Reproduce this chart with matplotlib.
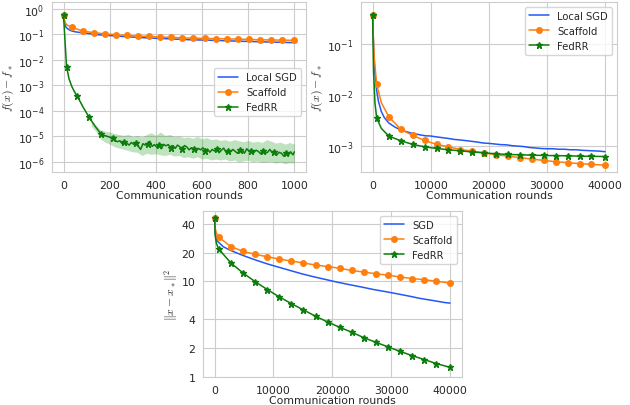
import matplotlib
matplotlib.use('Agg')
import matplotlib.pyplot as plt
import seaborn as sns
from matplotlib.ticker import FixedLocator, FixedFormatter, NullLocator

sns.set_style('whitegrid')
plt.rcParams['font.family'] = ['DejaVu Sans']
plt.rcParams['mathtext.fontset'] = 'cm'

BLUE = '#2457f5'
ORANGE = '#ff7f0e'
GREEN = '#0a7d0a'

# ---- panel 1 (1000 rounds) ----
p1_sgd_x = [0, 5, 10, 20, 30, 50, 80, 150, 250, 350, 450, 550, 650, 750, 850, 1000]
p1_sgd_y = [0.55, 0.3, 0.19, 0.16, 0.14, 0.125, 0.115, 0.096, 0.083, 0.073, 0.067,
            0.061, 0.058, 0.054, 0.051, 0.047]

p1_sca_x = [0, 5, 15, 35, 83, 131, 179, 227, 275, 323, 371, 419, 467, 515, 563, 611,
            659, 707, 755, 803, 851, 899, 947, 997]
p1_sca_y = [0.58, 0.3, 0.23, 0.19, 0.134, 0.115, 0.105, 0.096, 0.09, 0.085, 0.083,
            0.078, 0.076, 0.072, 0.071, 0.069, 0.067, 0.066, 0.065, 0.063, 0.061,
            0.06, 0.059, 0.058]
p1_sca_marks = [0, 35, 83, 131, 179, 227, 275, 323, 371, 419, 467, 515, 563, 611,
                659, 707, 755, 803, 851, 899, 947, 997]

p1_rr_x = [0, 13, 24, 36, 48, 60, 85, 111, 137, 164, 174, 184, 194, 204, 214, 224,
           234, 244, 254, 264, 274, 284, 294, 304, 314, 324, 334, 344, 354, 364,
           374, 384, 394, 404, 414, 424, 434, 444, 454, 464, 474, 484, 494, 504,
           514, 524, 534, 544, 554, 564, 574, 584, 594, 604, 614, 624, 634, 644,
           654, 664, 674, 684, 694, 704, 714, 724, 734, 744, 754, 764, 774, 784,
           794, 804, 814, 824, 834, 844, 854, 864, 874, 884, 894, 904, 914, 924,
           934, 944, 954, 964, 974, 984, 994, 1000]
p1_rr_y = [0.55, 5.4e-3, 1.8e-3, 9e-4, 5.5e-4, 3.7e-4, 1.4e-4, 5.6e-5, 2.5e-5, 1.2e-5,
           1.1e-5, 1.05e-5, 9.8e-6, 9.2e-6, 8.8e-6, 7.0e-6, 6.2e-6, 6.8e-6, 5.2e-6,
           6.0e-6, 5.5e-6, 4.6e-6, 5.8e-6, 4.9e-6, 5.5e-6, 4.2e-6, 3.1e-6, 5.2e-6,
           4.6e-6, 5.0e-6, 6.5e-6, 4.1e-6, 4.8e-6, 3.8e-6, 4.6e-6, 3.3e-6, 4.9e-6,
           4.3e-6, 4.8e-6, 3.6e-6, 4.4e-6, 3.4e-6, 4.6e-6, 3.9e-6, 3.2e-6, 4.4e-6,
           3.9e-6, 3.0e-6, 3.6e-6, 3.3e-6, 2.6e-6, 3.4e-6, 3.0e-6, 3.6e-6, 2.8e-6,
           3.2e-6, 2.4e-6, 3.1e-6, 2.7e-6, 3.3e-6, 2.3e-6, 2.9e-6, 3.5e-6, 2.4e-6,
           2.8e-6, 2.5e-6, 3.1e-6, 2.6e-6, 2.2e-6, 2.9e-6, 3.0e-6, 2.2e-6, 3.3e-6,
           2.6e-6, 2.8e-6, 2.3e-6, 2.9e-6, 2.6e-6, 2.1e-6, 2.7e-6, 2.2e-6, 2.4e-6,
           3.1e-6, 2.3e-6, 2.5e-6, 1.9e-6, 2.4e-6, 2.2e-6, 1.7e-6, 2.3e-6, 1.8e-6,
           2.5e-6, 1.9e-6, 2.5e-6]
p1_rr_marks = [0, 13, 60, 111, 164, 214, 264, 314, 364, 414, 464, 514, 564, 614,
               664, 714, 764, 814, 864, 914, 964]

p1_band_x = [120, 140, 160, 180, 200, 220, 240, 260, 280, 300, 320, 340, 360, 380,
             400, 420, 440, 460, 480, 500, 520, 540, 560, 580, 600, 620, 640, 660,
             680, 700, 720, 740, 760, 780, 800, 820, 840, 860, 880, 900, 920, 940,
             960, 980, 1000]
p1_band_hi = [45, 28, 18, 16, 15, 13, 12, 11, 12, 10, 11, 9.5, 12, 14, 11, 15, 11,
              12, 10, 10.5, 9, 9.5, 8.5, 10, 8, 9, 7.5, 8, 7, 7.5, 6.5, 7.5, 6.8,
              6.2, 7, 6, 6.5, 5.8, 7.5, 6.5, 5.5, 6, 5, 5.8, 5]
p1_band_lo = [25, 16, 8, 6, 5, 4, 3.5, 3.2, 2.8, 2.5, 2.4, 1.8, 2.2, 2.0, 2.1, 1.9,
              1.8, 2.0, 1.7, 1.8, 1.5, 1.6, 1.4, 1.6, 1.3, 1.4, 1.2, 1.3, 1.2, 1.3,
              1.1, 1.2, 1.0, 1.1, 1.2, 1.0, 1.1, 0.95, 1.0, 1.05, 0.9, 1.0, 0.85,
              0.95, 0.9]

# ---- panel 2 (40000 rounds, objective gap) ----
p2_sgd_x = [0, 150, 350, 700, 1000, 1500, 2000, 2800, 3800, 4800, 5800, 6900, 8000,
            9000, 10000, 11000, 12000, 13000, 14000, 15000, 16000, 17000, 18000,
            19000, 20000, 21000, 22000, 23000, 24000, 25000, 26000, 27000, 28000,
            29000, 30000, 31000, 32000, 33000, 34000, 35000, 36000, 37000, 38000,
            39000, 40000]
p2_sgd_y = [0.37, 0.1, 0.03, 0.012, 7.5e-3, 4.7e-3, 3.6e-3, 2.8e-3, 2.35e-3, 2.05e-3,
            1.9e-3, 1.75e-3, 1.66e-3, 1.58e-3, 1.56e-3, 1.5e-3, 1.45e-3, 1.4e-3,
            1.34e-3, 1.31e-3, 1.27e-3, 1.23e-3, 1.19e-3, 1.14e-3, 1.12e-3, 1.09e-3,
            1.06e-3, 1.05e-3, 1.01e-3, 9.9e-4, 9.7e-4, 9.3e-4, 9.1e-4, 8.9e-4,
            8.8e-4, 8.8e-4, 8.6e-4, 8.6e-4, 8.4e-4, 8.4e-4, 8.2e-4, 8.1e-4, 8.0e-4,
            7.9e-4, 7.7e-4]

p2_marks = [0, 700, 2800, 4850, 6900, 8950, 11000, 13050, 15100, 17150, 19200,
            21250, 23300, 25350, 27400, 29450, 31500, 33550, 35600, 37650, 40000]
p2_sca_x = [0, 100, 300, 700, 1500] + p2_marks[2:]
p2_sca_y = [0.37, 0.15, 0.05, 0.016, 7e-3, 3.7e-3, 2.1e-3, 1.6e-3, 1.28e-3, 1.07e-3,
            9.6e-4, 8.5e-4, 7.9e-4, 7.3e-4, 6.7e-4, 6.3e-4, 5.9e-4, 5.5e-4, 5.2e-4,
            4.9e-4, 4.7e-4, 4.5e-4, 4.35e-4, 4.2e-4]
p2_rr_x = [0, 150, 400, 700, 1500] + p2_marks[2:]
p2_rr_y = [0.37, 0.03, 7e-3, 3.5e-3, 2.2e-3, 1.55e-3, 1.26e-3, 1.07e-3, 9.6e-4,
           8.9e-4, 8.4e-4, 8.0e-4, 7.6e-4, 7.3e-4, 7.0e-4, 6.8e-4, 6.7e-4, 6.6e-4,
           6.5e-4, 6.45e-4, 6.4e-4, 6.3e-4, 6.25e-4, 6.2e-4]

# ---- panel 3 (40000 rounds, distance) ----
p3_sgd_x = [0, 100, 400, 700, 1500, 2800, 4900, 7000, 9000, 11000, 13000, 15000,
            17000, 19000, 21000, 23000, 25000, 27000, 29000, 31000, 33000, 35000,
            37000, 39000, 40000]
p3_sgd_y = [45.8, 32, 26.6, 25.6, 23, 21, 18.6, 16.7, 15.2, 14.0, 12.9, 11.9, 11.1,
            10.4, 9.75, 9.2, 8.7, 8.2, 7.8, 7.4, 7.0, 6.6, 6.3, 6.0, 5.9]
p3_sca_x = [0, 100, 300] + p2_marks[1:]
p3_sca_y = [45.8, 36, 32, 29, 23.1, 20.6, 19.2, 18.1, 17.1, 16.3, 15.6, 14.8, 14.3,
            13.7, 13.0, 12.5, 12.0, 11.6, 11.1, 10.7, 10.4, 10.0, 9.6]
p3_rr_x = [0, 100, 300] + p2_marks[1:]
p3_rr_y = [45.8, 30, 25, 21.8, 15.5, 12.2, 9.9, 8.2, 6.85, 5.83, 5.0, 4.3, 3.74,
           3.29, 2.92, 2.56, 2.29, 2.05, 1.84, 1.66, 1.51, 1.37, 1.25]


def marks_idx(xs, marks):
    return [i for i, v in enumerate(xs) if v in marks]


def style(ax, ylab):
    ax.set_yscale('log')
    ax.yaxis.set_minor_locator(NullLocator())
    ax.set_xlabel('Communication rounds', fontsize=7.8, labelpad=0, color='.15')
    ax.set_ylabel(ylab, fontsize=8.5, color='.15', labelpad=1)
    ax.tick_params(labelsize=7.8, colors='.15', pad=2)
    for s in ax.spines.values():
        s.set_color('.8')


fig = plt.figure(figsize=(6.3, 4.06), dpi=100)

ax1 = fig.add_axes([0.0825, 0.574, 0.403, 0.419])
ax1.fill_between(p1_band_x, [v * 1e-6 for v in p1_band_lo], [v * 1e-6 for v in p1_band_hi],
                 color='#2ca02c', alpha=0.3, lw=0)
ax1.plot(p1_sgd_x, p1_sgd_y, color=BLUE, lw=1.1, label='Local SGD')
ax1.plot(p1_sca_x, p1_sca_y, color=ORANGE, lw=1.1, marker='o', ms=4,
         markevery=marks_idx(p1_sca_x, p1_sca_marks), label='Scaffold')
ax1.plot(p1_rr_x, p1_rr_y, color=GREEN, lw=1.1, marker='*', ms=4.5,
         markevery=marks_idx(p1_rr_x, p1_rr_marks), label='FedRR')
style(ax1, r'$f(x) - f_*$')
ax1.set_xlim(-50, 1050)
ax1.set_ylim(10 ** -6.39, 10 ** 0.27)
ax1.set_xticks([0, 200, 400, 600, 800, 1000])
ax1.set_yticks([1e-6, 1e-5, 1e-4, 1e-3, 1e-2, 1e-1, 1])
ax1.legend(loc='center right', bbox_to_anchor=(1.0, 0.47), fontsize=7.2)

ax2 = fig.add_axes([0.573, 0.574, 0.406, 0.419])
ax2.plot(p2_sgd_x, p2_sgd_y, color=BLUE, lw=1.1, label='Local SGD')
ax2.plot(p2_sca_x, p2_sca_y, color=ORANGE, lw=1.1, marker='o', ms=4,
         markevery=marks_idx(p2_sca_x, p2_marks), label='Scaffold')
ax2.plot(p2_rr_x, p2_rr_y, color=GREEN, lw=1.1, marker='*', ms=4.5,
         markevery=marks_idx(p2_rr_x, p2_marks), label='FedRR')
style(ax2, r'$f(x) - f_*$')
ax2.set_xlim(-2000, 42000)
ax2.set_ylim(10 ** -3.51, 10 ** -0.18)
ax2.set_xticks([0, 10000, 20000, 30000, 40000])
ax2.set_yticks([1e-3, 1e-2, 1e-1])
ax2.legend(loc='upper right', fontsize=7.2)

ax3 = fig.add_axes([0.322, 0.069, 0.411, 0.409])
ax3.plot(p3_sgd_x, p3_sgd_y, color=BLUE, lw=1.1, label='SGD')
ax3.plot(p3_sca_x, p3_sca_y, color=ORANGE, lw=1.1, marker='o', ms=4,
         markevery=marks_idx(p3_sca_x, p2_marks), label='Scaffold')
ax3.plot(p3_rr_x, p3_rr_y, color=GREEN, lw=1.1, marker='*', ms=4.5,
         markevery=marks_idx(p3_rr_x, p2_marks), label='FedRR')
style(ax3, r'$\|x - x_*\|^2$')
ax3.set_xlim(-2000, 42000)
ax3.set_ylim(0.99, 54.8)
ax3.set_xticks([0, 10000, 20000, 30000, 40000])
ax3.yaxis.set_major_locator(FixedLocator([1, 2, 4, 10, 20, 40]))
ax3.yaxis.set_major_formatter(FixedFormatter(['1', '2', '4', '10', '20', '40']))
ax3.legend(loc='upper right', fontsize=7.2)

fig.savefig('out.png', dpi=100)
